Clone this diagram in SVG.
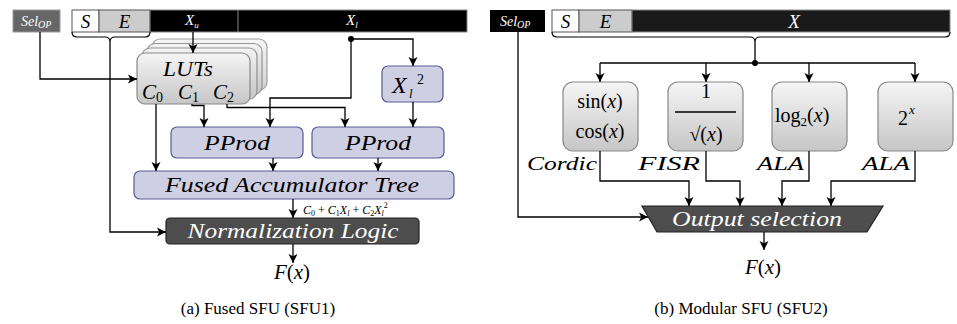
<svg xmlns="http://www.w3.org/2000/svg" width="957" height="324" viewBox="0 0 957 324" font-family="Liberation Serif, Times New Roman, Times, DejaVu Serif, serif">
<style>
.m{font-style:italic;}
.w{fill:#fff;}
.c{stroke:#000;stroke-width:1.3;fill:none;}
.ca{stroke:#000;stroke-width:1.3;fill:none;marker-end:url(#arr);}
.pur{fill:#cfcfe3;stroke:#5a5a98;stroke-width:1.2;}
.gb{fill:url(#gg);stroke:#888;stroke-width:1.2;}
.dk{fill:#4d4d4d;stroke:#222;stroke-width:1.2;}
</style>
<defs>
<linearGradient id="gg" x1="0" y1="0" x2="0" y2="1">
<stop offset="0" stop-color="#f5f5f5"/>
<stop offset="1" stop-color="#c6c6c6"/>
</linearGradient>
<marker id="arr" viewBox="0 0 10 10" refX="10" refY="5" markerWidth="9" markerHeight="10" markerUnits="userSpaceOnUse" orient="auto">
<path d="M0,0 L10,5 L0,10 L2.5,5 z" fill="#000"/>
</marker>
</defs>

<!-- ===== Left panel (a) ===== -->
<g id="selop-a">
<rect x="13" y="10" width="47" height="22" fill="#666" stroke="#999"/>
<text x="21" y="26" class="m w" font-size="14">Sel<tspan font-size="10" dy="2">OP</tspan></text>
</g>
<g id="word-a">
<rect x="72" y="10" width="27" height="22" fill="#fff" stroke="#555"/>
<rect x="99" y="10" width="51" height="22" fill="#ccc" stroke="#555"/>
<rect x="150" y="10" width="317" height="22" fill="#000" stroke="#888"/>
<line x1="238" y1="10" x2="238" y2="32" stroke="#888"/>
<text x="85.5" y="28" class="m" font-size="19" text-anchor="middle">S</text>
<text x="124.5" y="28" class="m" font-size="19" text-anchor="middle">E</text>
<text x="185" y="25" class="m w" font-size="15">X<tspan font-size="9" dy="3">u</tspan></text>
<text x="346" y="25" class="m w" font-size="15">X<tspan font-size="9" dy="3">l</tspan></text>
<path d="M72,32 q0,5 5,5 H105 q5,0 5,5 q0,-5 5,-5 H145 q5,0 5,-5" fill="none" stroke="#000" stroke-width="1.2"/>
</g>
<g id="luts">
<rect x="152" y="39" width="115" height="51" rx="8" class="gb" opacity="0.8"/>
<rect x="147" y="43.5" width="115" height="51" rx="8" class="gb" opacity="0.85"/>
<rect x="142" y="48" width="115" height="51" rx="8" class="gb" opacity="0.9"/>
<rect x="137" y="53" width="113" height="51" rx="8" class="gb"/>
<text x="188" y="76" class="m" font-size="21" text-anchor="middle" textLength="50" lengthAdjust="spacingAndGlyphs">LUTs</text>
<text x="142" y="99" class="m" font-size="21">C<tspan font-size="14" dy="3" font-style="normal">0</tspan></text>
<text x="178" y="99" class="m" font-size="21">C<tspan font-size="14" dy="3" font-style="normal">1</tspan></text>
<text x="213" y="99" class="m" font-size="21">C<tspan font-size="14" dy="3" font-style="normal">2</tspan></text>
</g>
<g id="xl2">
<rect x="382" y="66" width="61" height="36" rx="6" class="pur"/>
<text x="392" y="93" class="m" font-size="24">X</text>
<text x="409" y="98" class="m" font-size="13">l</text>
<text x="417" y="84" font-size="14">2</text>
</g>
<g id="pprod1">
<rect x="171" y="127" width="132" height="31" rx="6" class="pur"/>
<text x="237" y="150" class="m" font-size="21" text-anchor="middle" textLength="66" lengthAdjust="spacingAndGlyphs">PProd</text>
</g>
<g id="pprod2">
<rect x="312" y="127" width="132" height="31" rx="6" class="pur"/>
<text x="378" y="150" class="m" font-size="21" text-anchor="middle" textLength="66" lengthAdjust="spacingAndGlyphs">PProd</text>
</g>
<g id="fat">
<rect x="134" y="171" width="320" height="28" rx="6" class="pur"/>
<text x="292" y="192" class="m" font-size="21" text-anchor="middle" textLength="254" lengthAdjust="spacingAndGlyphs">Fused Accumulator Tree</text>
</g>
<g id="norm">
<rect x="166" y="218" width="253" height="26" rx="4" class="dk"/>
<text x="293" y="238" class="m w" font-size="20" text-anchor="middle" textLength="211" lengthAdjust="spacingAndGlyphs">Normalization Logic</text>
</g>
<g id="poly-label">
<text x="303" y="214" class="m" font-size="12">C<tspan font-size="8" dy="2" font-style="normal">0</tspan><tspan dy="-2" font-style="normal"> + </tspan>C<tspan font-size="8" dy="2" font-style="normal">1</tspan><tspan dy="-2">X</tspan><tspan font-size="8" dy="2">l</tspan><tspan dy="-2" font-style="normal"> + </tspan>C<tspan font-size="8" dy="2" font-style="normal">2</tspan><tspan dy="-2">X</tspan><tspan font-size="8" dy="2">l</tspan><tspan font-size="8" dy="-8" font-style="normal">2</tspan></text>
</g>
<g id="fx-a">
<text x="292" y="279" class="m" font-size="21" text-anchor="middle">F<tspan font-style="normal">(</tspan>x<tspan font-style="normal">)</tspan></text>
</g>
<text x="258" y="314" font-size="17" text-anchor="middle">(a) Fused SFU (SFU1)</text>

<g id="connectors-a">
<path class="ca" d="M40,32 V79 H137"/>
<path class="ca" d="M110,42 V232 H166"/>
<path class="ca" d="M193,32 V53"/>
<path class="ca" d="M351,39 V98 H270 V127"/>
<path class="ca" d="M351,39 H413 V66"/>
<circle cx="351" cy="39" r="3" fill="#000"/>
<path class="ca" d="M156,104 V171"/>
<path class="ca" d="M192,104 V105.5 H204 V127"/>
<path class="ca" d="M227,104 V107.5 H345 V127"/>
<path class="ca" d="M413,102 V127"/>
<path class="ca" d="M273,158 V171"/>
<path class="ca" d="M378,158 V171"/>
<path class="ca" d="M293,199 V218"/>
<path class="ca" d="M293,244 V263"/>
</g>

<!-- ===== Right panel (b) ===== -->
<g id="selop-b">
<rect x="490" y="10" width="55" height="22" fill="#000"/>
<text x="500" y="26" class="m w" font-size="14">Sel<tspan font-size="10" dy="2">OP</tspan></text>
</g>
<g id="word-b">
<rect x="552" y="10" width="27" height="22" fill="#fff" stroke="#555"/>
<rect x="579" y="10" width="53" height="22" fill="#ccc" stroke="#555"/>
<rect x="632" y="10" width="318" height="22" fill="#1a1a1a" stroke="#888"/>
<text x="565.5" y="28" class="m" font-size="19" text-anchor="middle">S</text>
<text x="605.5" y="28" class="m" font-size="19" text-anchor="middle">E</text>
<text x="794" y="28" class="m w" font-size="19" text-anchor="middle">X</text>
<path d="M552,32 q0,5 5,5 H750 q5,0 5,5 q0,-5 5,-5 H945 q5,0 5,-5" fill="none" stroke="#000" stroke-width="1.2"/>
</g>
<g id="sincos">
<rect x="563" y="82" width="75" height="69" rx="10" class="gb"/>
<text x="600" y="108" font-size="20" text-anchor="middle">sin(<tspan font-style="italic">x</tspan>)</text>
<text x="600" y="138" font-size="20" text-anchor="middle">cos(<tspan font-style="italic">x</tspan>)</text>
</g>
<g id="fisr">
<rect x="668" y="82" width="75" height="69" rx="10" class="gb"/>
<text x="706" y="98" font-size="20" text-anchor="middle">1</text>
<line x1="675" y1="112" x2="736" y2="112" stroke="#000" stroke-width="1.4"/>
<text x="706" y="141" font-size="20" text-anchor="middle">√(<tspan font-style="italic">x</tspan>)</text>
</g>
<g id="log2">
<rect x="772" y="82" width="75" height="69" rx="10" class="gb"/>
<text x="775" y="122" font-size="20">log<tspan font-size="13" dy="4">2</tspan><tspan dy="-4">(</tspan><tspan font-style="italic">x</tspan>)</text>
</g>
<g id="exp2">
<rect x="878" y="82" width="75" height="69" rx="10" class="gb"/>
<text x="898" y="125" font-size="20">2</text>
<text x="909" y="114" class="m" font-size="13">x</text>
</g>
<g id="algo-labels">
<text x="597" y="170" class="m" font-size="19" text-anchor="end" textLength="70" lengthAdjust="spacingAndGlyphs">Cordic</text>
<text x="700" y="170" class="m" font-size="19" text-anchor="end" textLength="62" lengthAdjust="spacingAndGlyphs">FISR</text>
<text x="804" y="170" class="m" font-size="19" text-anchor="end" textLength="47" lengthAdjust="spacingAndGlyphs">ALA</text>
<text x="910" y="170" class="m" font-size="19" text-anchor="end" textLength="48" lengthAdjust="spacingAndGlyphs">ALA</text>
</g>
<g id="outsel">
<polygon points="642,206 883,206 867,232 657,232" fill="#4d4d4d" stroke="#222" stroke-width="1.2"/>
<text x="757" y="226" class="m w" font-size="20" text-anchor="middle" textLength="170" lengthAdjust="spacingAndGlyphs">Output selection</text>
</g>
<g id="fx-b">
<text x="763" y="274" class="m" font-size="21" text-anchor="middle">F<tspan font-style="normal">(</tspan>x<tspan font-style="normal">)</tspan></text>
</g>
<text x="741" y="314" font-size="17" text-anchor="middle">(b) Modular SFU (SFU2)</text>

<g id="connectors-b">
<path class="ca" d="M518,32 V217 H648"/>
<path class="c" d="M755,42 V63"/>
<path class="c" d="M600,63 H915"/>
<circle cx="755" cy="63" r="3" fill="#000"/>
<path class="ca" d="M600,63 V82"/>
<path class="ca" d="M706,63 V82"/>
<path class="ca" d="M809,63 V82"/>
<path class="ca" d="M915,63 V82"/>
<path class="ca" d="M600,151 V181 H689 V206"/>
<path class="ca" d="M706,151 V181 H740 V206"/>
<path class="ca" d="M809,151 V181 H782 V206"/>
<path class="ca" d="M915,151 V181 H831 V206"/>
<path class="ca" d="M764,232 V250"/>
</g>
</svg>
